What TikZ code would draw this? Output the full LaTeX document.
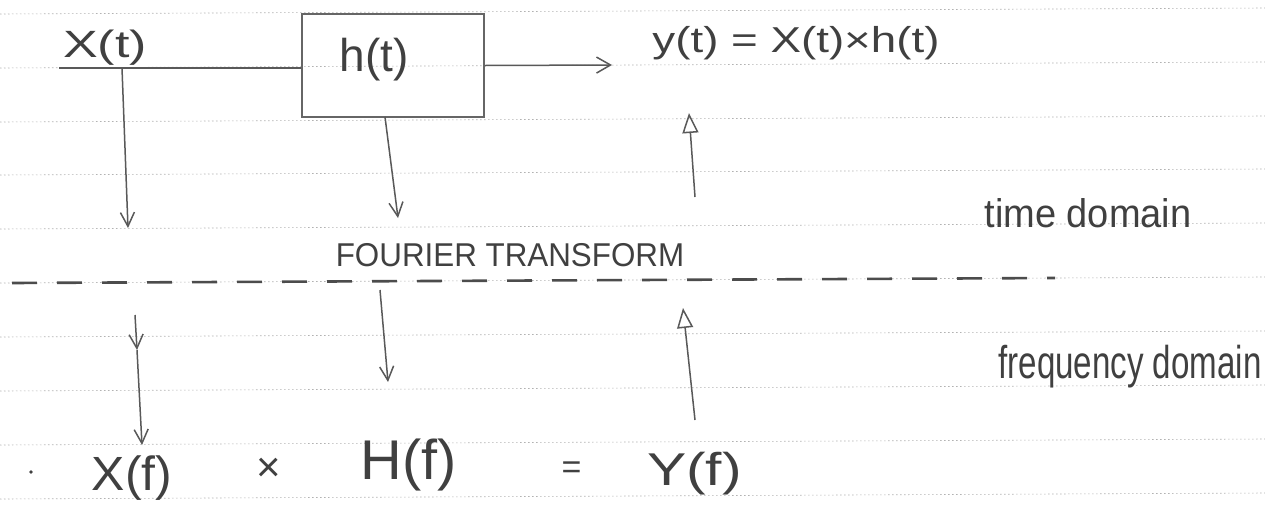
\documentclass[tikz,border=0pt]{standalone}
\usepackage{graphicx}
\usepackage{fontspec}
\setmainfont{Liberation Sans}
\usetikzlibrary{arrows.meta}
\newcommand{\hwtext}[3]{\fontsize{#1pt}{#1pt}\selectfont\scalebox{#2}[1]{#3}}
\tikzset{
  ruled/.style={black!30, line width=0.6pt, dash pattern=on 1.5pt off 2.5pt},
  ftline/.style={black!70, line width=2.6pt, dash pattern=on 25pt off 20pt},
  hand/.style={black!65, line width=1.5pt},
  hw/.style={inner sep=0pt, text=black!75},
  downarr/.style={hand, -{Straight Barb[length=14pt,width=14pt]}},
  uparr/.style={hand, -{Triangle[open,length=20pt,width=16pt]}},
  sysbox/.style={draw=black!60, line width=1.5pt, minimum width=182pt, minimum height=103pt, inner sep=0pt}
}
\begin{document}
\begin{tikzpicture}[x=1pt,y=-1pt]
\useasboundingbox[fill=white] (0,0) rectangle (1265,504);
% ruled paper lines
\foreach \yy in {14,68,122,175,229,283,337,391,445,499}{
  \draw[ruled] (0,\yy) -- (1265,\yy-6);
}
% Fourier transform dashed line
\coordinate (fl) at (12,283);
\coordinate (fr) at (1055,278);
\draw[ftline] (fl) -- (fr);

% system box
\node[sysbox] (box) at (393,65.5) {};
\node[hw] (ht) at (374,59.5) {\hwtext{46}{1.0}{h(t)}};

% input
\node[hw] (xt) at (105,47.5) {\hwtext{38}{1.37}{X(t)}};
\coordinate (xs) at (59,68);
\coordinate (xj) at (122,68);
\draw[hand] (xs) -- (xs -| box.west);

% output
\coordinate (ytip) at (612,65);
\draw[hand, -{Straight Barb[length=14pt,width=16pt]}] (box.east) -- (ytip);
\node[hw] (yeq) at (796,43) {\hwtext{36}{1.27}{y(t) = X(t)×h(t)}};

% time-domain arrows
\coordinate (xd) at (128,228);
\draw[downarr] (xj) -- (xd);
\coordinate (hb) at (385,117);
\coordinate (hd) at (398,218);
\draw[downarr] (hb) -- (hd);
\coordinate (yu1) at (695,197);
\coordinate (yu2) at (689,113);
\draw[uparr] (yu1) -- (yu2);

\node[hw] (td) at (1088,213.5) {\hwtext{40}{0.95}{time domain}};
\node[hw] (ft) at (510,255.5) {\hwtext{33}{0.95}{FOURIER TRANSFORM}};
\node[hw] (fd) at (1130,367) {\hwtext{46}{0.72}{frequency domain}};

% frequency-domain arrows
\coordinate (xl1) at (135,315);
\coordinate (xl2) at (137,350);
\coordinate (xl3) at (142,445);
\draw[downarr] (xl1) -- (xl2);
\draw[downarr] (xl2) -- (xl3);
\coordinate (hl1) at (380,290);
\coordinate (hl2) at (388,382);
\draw[downarr] (hl1) -- (hl2);
\coordinate (yl1) at (695,420);
\coordinate (yl2) at (683,308);
\draw[uparr] (yl1) -- (yl2);

% bottom equation
\node[hw] (dot) at (31,472) {};
\fill[black!75] (dot) circle (1.8);
\node[hw] (Xf) at (132,478.5) {\hwtext{48}{1.04}{X(f)}};
\node[hw] (times) at (268.5,470) {\hwtext{42}{1.0}{×}};
\node[hw] (Hf) at (409,464.5) {\hwtext{56}{1.03}{H(f)}};
\node[hw] (eq) at (571.5,470) {\hwtext{34}{1.0}{=}};
\node[hw] (Yf) at (694.5,473.5) {\hwtext{46}{1.28}{Y(f)}};
\end{tikzpicture}
\end{document}
